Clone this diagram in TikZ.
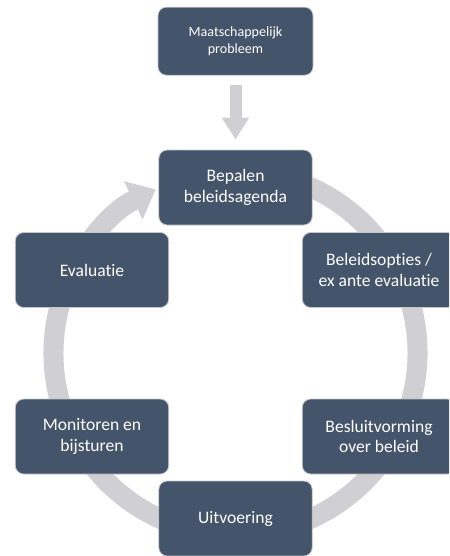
\documentclass[tikz,border=0pt]{standalone}
\usepackage{fontspec}
\setmainfont{Carlito}[Ligatures=NoCommon]
\usetikzlibrary{arrows.meta,positioning}
\definecolor{Leisteen}{RGB}{68,84,106}
\definecolor{LeisteenRand}{RGB}{196,198,202}
\definecolor{RingGrijs}{RGB}{208,208,212}
\tikzset{
  fasebox/.style={draw=LeisteenRand, line width=0.7pt, rounded corners=0.25cm, fill=Leisteen,
    text=white, align=center, minimum width=#1, minimum height=2.25cm,
    font=\fontsize{15}{17.5}\selectfont, inner sep=3pt},
  fasebox/.default=4.6cm,
  bronbox/.style={fasebox=4.65cm, minimum height=2.04cm, font=\fontsize{12}{14.2}\selectfont},
  cyclusarr/.style={-{Triangle[width=1.23cm, length=0.75cm]}, line width=0.6cm, RingGrijs},
  pijlarr/.style={-{Triangle[width=0.78cm, length=0.66cm]}, line width=0.36cm, RingGrijs},
}

\begin{document}
\begin{tikzpicture}
  \clip (0,0) rectangle (13.47,-16.68);
  % ---- ring achter de fasen ----
  \coordinate (hub) at (7.065,-10.59);
  \draw[cyclusarr] (hub) ++(80:5.46) arc[start angle=80, end angle=-244, radius=5.46cm];
  % ---- fasen van de beleidscyclus ----
  \node[fasebox] (agenda) at (7.065,-5.625) {Bepalen\\beleidsagenda};
  \node[bronbox, above=2.22cm of agenda] (probleem) {Maatschappelijk\\probleem};
  \node[fasebox] (opties) at (11.37,-8.10) {Beleidsopties /\\ex ante evaluatie};
  \node[fasebox] (besluit) at (11.37,-13.095) {Besluitvorming\\over beleid};
  \node[fasebox] (uitvoering) at (7.065,-15.555) {Uitvoering};
  \node[fasebox] (monitoren) at (2.76,-13.095) {Monitoren en\\bijsturen};
  \node[fasebox] (evaluatie) at (2.76,-8.10) {Evaluatie};
  \draw[pijlarr] ([yshift=-0.27cm]probleem.south) -- ([yshift=0.3cm]agenda.north);
\end{tikzpicture}
\end{document}
